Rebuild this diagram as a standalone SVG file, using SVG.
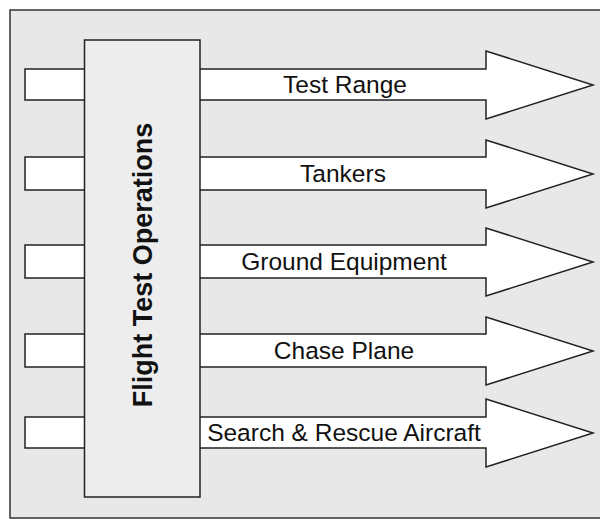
<svg xmlns="http://www.w3.org/2000/svg" width="600" height="519" viewBox="0 0 600 519">
<style>
.frame{fill:#e8e8e8;stroke:#333;stroke-width:1.5}
.arrow{fill:#ffffff;stroke:#222;stroke-width:1.5;stroke-linejoin:miter}
.box{fill:#ededed;stroke:#222;stroke-width:1.5}
.lbl{font-family:"Liberation Sans",Arial,sans-serif;font-size:24.5px;fill:#111;text-anchor:middle}
.title{font-family:"Liberation Sans",Arial,sans-serif;font-size:27px;font-weight:bold;fill:#111;text-anchor:middle}
</style>
<rect x="0" y="0" width="600" height="519" fill="#ffffff"/>
<rect class="frame" x="10" y="10" width="600" height="508"/>
<g id="connectors">
<g id="arrow-test-range">
<polygon class="arrow" points="25,69 486,69 486,51 593,85 486,119 486,100 25,100"/>
<text class="lbl" x="345" y="93">Test Range</text>
</g>
<g id="arrow-tankers">
<polygon class="arrow" points="25,157 486,157 486,140 593,174 486,208 486,190 25,190"/>
<text class="lbl" x="343" y="182">Tankers</text>
</g>
<g id="arrow-ground-equipment">
<polygon class="arrow" points="25,245 486,245 486,228 593,262 486,296 486,278 25,278"/>
<text class="lbl" x="344" y="270">Ground Equipment</text>
</g>
<g id="arrow-chase-plane">
<polygon class="arrow" points="25,334 486,334 486,317 593,351 486,385 486,367 25,367"/>
<text class="lbl" x="344" y="359">Chase Plane</text>
</g>
<g id="arrow-search-rescue">
<polygon class="arrow" points="25,417 486,417 486,399 593,433 486,467 486,448 25,448"/>
<text class="lbl" x="344" y="441">Search &amp; Rescue Aircraft</text>
</g>
</g>
<g id="flight-test-operations">
<rect class="box" x="84.5" y="40" width="115.5" height="457"/>
<text class="title" transform="translate(152,265) rotate(-90)" x="0" y="0">Flight Test Operations</text>
</g>
</svg>
